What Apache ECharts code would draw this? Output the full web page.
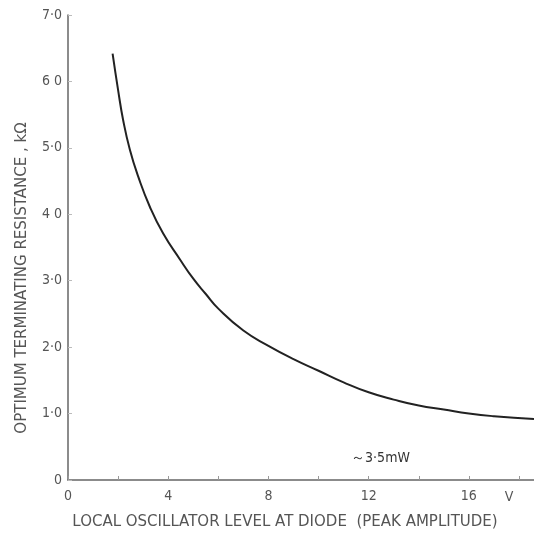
<!DOCTYPE html>
<html>
<head>
<meta charset="utf-8">
<title>Optimum terminating resistance</title>
<script src="https://cdn.jsdelivr.net/npm/echarts@6/dist/echarts.min.js"></script>
<style>
  html, body { margin: 0; padding: 0; background: #fff; }
  #chart { width: 534px; height: 545px; }
</style>
</head>
<body>
<div id="chart"></div>
<script>
// local oscillator level (V peak) and optimum terminating resistance (kΩ)
var levelV = [1.78, 2.0, 2.2, 2.47, 2.8, 3.27, 3.8, 4.47, 5.0, 5.5, 6.0, 7.0, 8.0, 9.0, 10.0, 11.0, 12.0, 13.0, 14.0, 15.0, 16.0, 17.0, 18.6];
var resistanceK = [6.42, 5.87, 5.42, 4.97, 4.57, 4.11, 3.71, 3.32, 3.03, 2.80, 2.58, 2.25, 2.02, 1.82, 1.645, 1.47, 1.32, 1.21, 1.12, 1.06, 1.00, 0.96, 0.92];
var yTickLabels = ['0', '1·0', '2·0', '3·0', '4 0', '5·0', '6 0', '7·0'];
var xLabelEvery = 4;
var xLastLabel = 16;
var unitLabel = 'V';
var unitAt = [17.6, 0];
var noteText = '～3·5mW';
var noteAt = [11.3, 0.33];

var font = '"DejaVu Sans Condensed", "DejaVu Sans", sans-serif';
var titleFont = '"DejaVu Sans", sans-serif';
var grey = '#555';

var chart = echarts.init(document.getElementById('chart'));

var points = [];
for (var i = 0; i < levelV.length; i++) {
    points.push([levelV[i], resistanceK[i]]);
}

var option = {
    animation: false,
    backgroundColor: '#fff',
    grid: { left: 68, right: 0, top: 15, bottom: 65 },
    xAxis: {
        type: 'value',
        min: 0,
        max: 18.6,
        interval: 2,
        splitLine: { show: false },
        axisLine: { lineStyle: { color: '#666', width: 1.5 } },
        axisTick: { inside: true, length: 4, lineStyle: { color: '#999' } },
        axisLabel: {
            color: grey, fontFamily: font, fontSize: 14, margin: 9,
            showMaxLabel: false,
            formatter: function (v) {
                return (v % xLabelEvery === 0 && v <= xLastLabel) ? String(v) : '';
            }
        }
    },
    yAxis: {
        type: 'value',
        min: 0,
        max: 7,
        interval: 1,
        splitLine: { show: false },
        axisLine: { lineStyle: { color: '#666', width: 1.5 } },
        axisTick: { inside: true, length: 4, lineStyle: { color: '#bbb' } },
        axisLabel: {
            color: grey, fontFamily: font, fontSize: 14, margin: 6,
            formatter: function (v) { return yTickLabels[v]; }
        }
    },
    series: [
        {
            type: 'line',
            data: points,
            smooth: true,
            symbol: 'none',
            lineStyle: { color: '#222', width: 2 }
        }
    ]
};
chart.setOption(option);

var unitPx = chart.convertToPixel({ gridIndex: 0 }, unitAt);
var notePx = chart.convertToPixel({ gridIndex: 0 }, noteAt);

chart.setOption({
    graphic: [
        {
            type: 'text', x: unitPx[0], y: 497,
            style: { text: unitLabel, fill: grey, font: '14px ' + font, textAlign: 'center', textVerticalAlign: 'middle' }
        },
        {
            type: 'text', x: notePx[0], y: notePx[1],
            style: { text: noteText, fill: '#333', font: '14px ' + font, textAlign: 'left', textVerticalAlign: 'middle' }
        },
        {
            type: 'text', x: 285, y: 522,
            style: { text: 'LOCAL OSCILLATOR LEVEL AT DIODE  (PEAK AMPLITUDE)', fill: grey, font: '15px ' + titleFont, textAlign: 'center', textVerticalAlign: 'middle' }
        },
        {
            type: 'text', x: 22, y: 278, rotation: Math.PI / 2,
            style: { text: 'OPTIMUM TERMINATING RESISTANCE , kΩ', fill: grey, font: '15px ' + titleFont, textAlign: 'center', textVerticalAlign: 'middle' }
        }
    ]
});
</script>
</body>
</html>
